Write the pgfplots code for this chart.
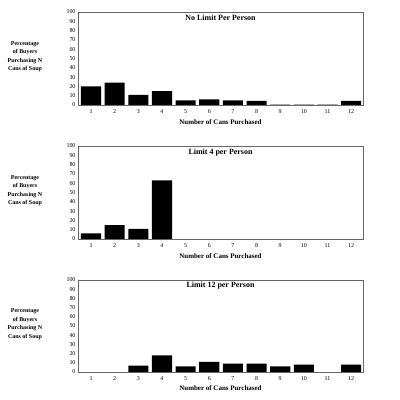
\documentclass[border=0pt]{standalone}
\usepackage{fontspec}
\setmainfont{Liberation Serif}
\usepackage{pgfplots}
\pgfplotsset{compat=1.18}
\begin{document}
\begin{tikzpicture}
\path[fill=white] (0bp,0bp) rectangle (400bp,400bp);
\pgfplotsset{
  panel/.style={
    ybar, bar width=0.85, bar shift=0pt,
    width=285bp, scale only axis,
    xmin=0.45, xmax=12.5, ymin=0, ymax=100,
    xtick={1,...,12}, ytick={0,10,...,100},
    tick style={draw=none},
    /pgf/number format/assume math mode=true,
    tick label style={font=\fontsize{6}{7}\selectfont},
    xticklabel style={yshift=3.5bp},
    yticklabel style={xshift=1bp},
    axis line style={black!60, line width=0.5pt},
    anchor=south west,
    title style={at={(rel axis cs:0.5,0.87)}, anchor=center, font=\fontsize{8}{9}\selectfont\bfseries},
    every axis y label/.style={at={(rel axis cs:-0.186,0.52)}, anchor=center, align=center, font=\fontsize{6}{8.5}\selectfont\bfseries},
    ylabel={Percentage\\of Buyers\\Purchasing N\\Cans of Soup},
    every axis x label/.style={at={(rel axis cs:0.5,0)}, yshift=-17bp, anchor=center, font=\fontsize{7}{8}\selectfont\bfseries},
    xlabel={Number of Cans Purchased},
  }
}
\begin{axis}[panel, at={(78bp,295bp)}, height=93bp, title={No Limit Per Person}]
\addplot[fill=black, draw=none] coordinates {(1,20) (2,24) (3,11) (4,15) (5,5) (6,6) (7,5) (8,4.5) (9,0.5) (10,0.5) (11,0.5) (12,4.5)};
\end{axis}
\begin{axis}[panel, at={(78bp,161bp)}, height=93bp, title={Limit 4 per Person}]
\addplot[fill=black, draw=none] coordinates {(1,6) (2,15) (3,11) (4,63)};
\end{axis}
\begin{axis}[panel, at={(78bp,28bp)}, height=92bp, title={Limit 12 per Person},
  every axis x label/.style={at={(rel axis cs:0.5,0)}, yshift=-16bp, anchor=center, font=\fontsize{7}{8}\selectfont\bfseries}]
\addplot[fill=black, draw=none] coordinates {(3,7) (4,18) (5,6) (6,11) (7,9) (8,9) (9,6) (10,8) (12,8)};
\end{axis}
\end{tikzpicture}
\end{document}
